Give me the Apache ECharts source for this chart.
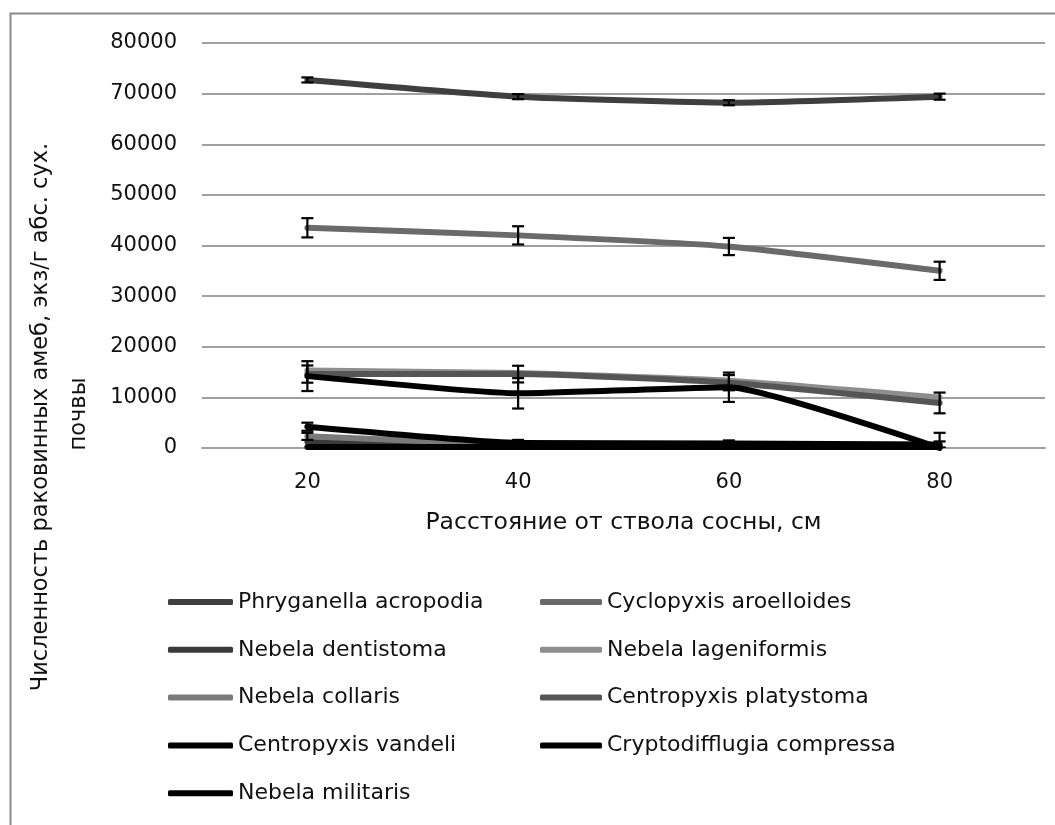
<!DOCTYPE html>
<html>
<head>
<meta charset="utf-8">
<script src="https://cdn.jsdelivr.net/npm/echarts@6/dist/echarts.min.js"></script>
<style>
  html, body { margin: 0; padding: 0; background: #fff; }
  #chart { width: 1055px; height: 825px; }
</style>
</head>
<body>
<div id="chart"></div>
<script>
// Distance from the pine trunk, cm
const categories = ['20', '40', '60', '80'];

// Testate amoeba abundance, ind./g dry soil
const phryganella     = [72700, 69400, 68200, 69400];
const cyclopyxis      = [43500, 42000, 39800, 35000];
const dentistoma      = [1200, 400, 300, 300];
const lageniformis    = [15300, 14800, 13300, 10000];
const collaris        = [2300, 700, 500, 400];
const platystoma      = [14600, 14600, 12900, 8900];
const vandeli         = [14200, 10800, 12000, 0];
const cryptodifflugia = [4200, 1000, 900, 700];
const militaris       = [200, 200, 200, 200];

// Error margins (±)
const phryganellaErr     = [500, 500, 500, 600];
const cyclopyxisErr      = [1900, 1800, 1700, 1800];
const platystomaErr      = [1700, 1650, 1500, 2050];
const vandeliErr         = [2950, 3000, 2900, 3000];
const cryptodifflugiaErr = [800, 600, 600, 600];
const collarisErr        = [700, 0, 0, 0];

const yTicks = { min: 0, max: 80000, interval: 10000 };

const FONT = 'DejaVu Sans';

const lineDefs = [
  { name: 'Phryganella acropodia',    data: phryganella,     color: '#3f3f3f' },
  { name: 'Cyclopyxis aroelloides',   data: cyclopyxis,      color: '#6a6a6a' },
  { name: 'Nebela dentistoma',        data: dentistoma,      color: '#3a3a3a' },
  { name: 'Nebela lageniformis',      data: lageniformis,    color: '#8e8e8e' },
  { name: 'Nebela collaris',          data: collaris,        color: '#7a7a7a' },
  { name: 'Centropyxis platystoma',   data: platystoma,      color: '#555555' },
  { name: 'Centropyxis vandeli',      data: vandeli,         color: '#000000' },
  { name: 'Cryptodifflugia compressa',data: cryptodifflugia, color: '#000000' },
  { name: 'Nebela militaris',         data: militaris,       color: '#000000' }
];

const errDefs = [
  { values: phryganella,     err: phryganellaErr },
  { values: cyclopyxis,      err: cyclopyxisErr },
  { values: collaris,        err: collarisErr },
  { values: platystoma,      err: platystomaErr },
  { values: vandeli,         err: vandeliErr },
  { values: cryptodifflugia, err: cryptodifflugiaErr }
];

function errorBarItem(params, api) {
  const x = api.value(0);
  const lo = api.coord([x, api.value(1)]);
  const hi = api.coord([x, api.value(2)]);
  const half = 6;
  const style = { stroke: '#000', lineWidth: 2.2, fill: null };
  return {
    type: 'group',
    children: [
      { type: 'line', shape: { x1: lo[0], y1: lo[1], x2: hi[0], y2: hi[1] }, style },
      { type: 'line', shape: { x1: lo[0] - half, y1: lo[1], x2: lo[0] + half, y2: lo[1] }, style },
      { type: 'line', shape: { x1: hi[0] - half, y1: hi[1], x2: hi[0] + half, y2: hi[1] }, style }
    ]
  };
}

const series = [];
lineDefs.forEach(d => {
  series.push({
    name: d.name,
    type: 'line',
    data: d.data,
    smooth: 0.15,
    showSymbol: false,
    symbol: 'none',
    color: d.color,
    lineStyle: { width: 6, color: d.color, cap: 'round', join: 'round' },
    z: 3
  });
});
errDefs.forEach(e => {
  const pts = e.values
    .map((v, i) => [i, Math.max(0, v - e.err[i]), v + e.err[i], e.err[i]])
    .filter(p => p[3] > 0);
  series.push({
    type: 'custom',
    renderItem: errorBarItem,
    data: pts,
    encode: { x: 0, y: [1, 2] },
    clip: true,
    silent: true,
    z: 4
  });
});

const col1 = ['Phryganella acropodia', 'Nebela dentistoma', 'Nebela collaris', 'Centropyxis vandeli', 'Nebela militaris'];
const col2 = ['Cyclopyxis aroelloides', 'Nebela lageniformis', 'Centropyxis platystoma', 'Cryptodifflugia compressa'];

function legendColumn(names, left, iconWidth) {
  return {
    data: names,
    orient: 'vertical',
    left: left,
    top: 591,
    padding: 0,
    icon: 'roundRect',
    itemWidth: iconWidth,
    itemHeight: 6,
    itemGap: 25.8,
    selectedMode: false,
    textStyle: { fontFamily: FONT, fontSize: 22, color: '#111', lineHeight: 22 }
  };
}

const chart = echarts.init(document.getElementById('chart'), null, { renderer: 'canvas' });
chart.setOption({
  backgroundColor: '#ffffff',
  animation: false,
  grid: { left: 202, right: 10, top: 43, bottom: 377, containLabel: false },
  xAxis: {
    type: 'category',
    data: categories,
    boundaryGap: true,
    axisLine: { show: true, lineStyle: { color: '#a0a0a0', width: 2 } },
    axisTick: { show: false },
    axisLabel: { fontFamily: FONT, fontSize: 21, color: '#111', margin: 24 },
    name: 'Расстояние от ствола сосны, см',
    nameLocation: 'middle',
    nameGap: 63,
    nameTextStyle: { fontFamily: FONT, fontSize: 23.5, color: '#111', verticalAlign: 'top' }
  },
  yAxis: {
    type: 'value',
    min: yTicks.min,
    max: yTicks.max,
    interval: yTicks.interval,
    axisLine: { show: false },
    axisTick: { show: false },
    axisLabel: {
      fontFamily: FONT, fontSize: 21, color: '#111', margin: 25,
      formatter: v => String(v)
    },
    splitLine: { show: true, lineStyle: { color: '#a0a0a0', width: 2 } }
  },
  legend: [legendColumn(col1, 168, 65), legendColumn(col2, 540, 62)],
  graphic: [
    {
      type: 'rect',
      left: 8, top: 11,
      shape: { width: 1100, height: 900 },
      style: { fill: null, stroke: '#8a8a8a', lineWidth: 2 },
      silent: true,
      z: -1
    },
    {
      type: 'text',
      x: 41, y: 417,
      rotation: Math.PI / 2,
      style: {
        text: 'Численность раковинных амеб, экз/г абс. сух.',
        fontFamily: FONT, fontSize: 22.5, fill: '#111',
        textAlign: 'center', textVerticalAlign: 'middle'
      }
    },
    {
      type: 'text',
      x: 79, y: 414,
      rotation: Math.PI / 2,
      style: {
        text: 'почвы',
        fontFamily: FONT, fontSize: 22.5, fill: '#111',
        textAlign: 'center', textVerticalAlign: 'middle'
      }
    }
  ],
  series: series
});
</script>
</body>
</html>
